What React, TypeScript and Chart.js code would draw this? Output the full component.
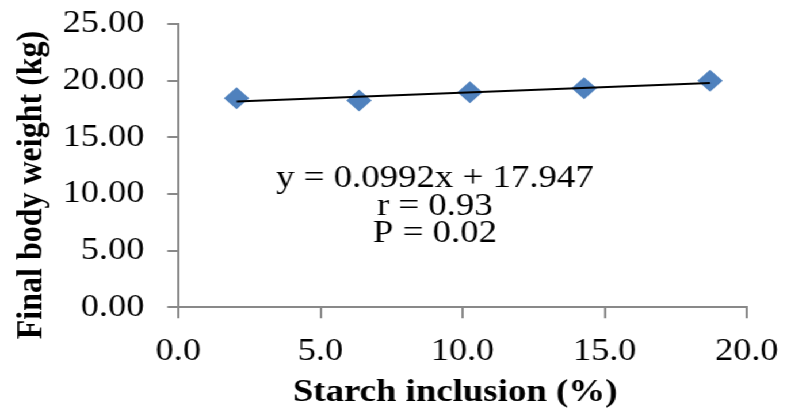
import React, { useEffect, useRef } from "react";
import { Chart, registerables } from "chart.js";

Chart.register(...registerables);

// ---- data ----
const starchInclusion = [2.05, 6.36, 10.26, 14.28, 18.71];
const finalBodyWeight = [18.45, 18.24, 18.98, 19.33, 20.0];
const trendSlope = 0.0992;
const trendIntercept = 17.947;
const equationLines = ["y = 0.0992x + 17.947", "r = 0.93", "P = 0.02"];
const xAxisTitle = "Starch inclusion (%)";
const yAxisTitle = "Final body weight (kg)";
const xRange = [0, 20];
const xStep = 5;
const yRange = [0, 25];
const yStep = 5;

// ---- layout / style ----
const W = 684;
const H = 411;
const SX = 787 / W;
const FONT = '"Liberation Serif", "Times New Roman", serif';
const AXIS_GRAY = "#898989";
const MARKER = "#4F81BD";

export default function App() {
  const ref = useRef<HTMLCanvasElement | null>(null);

  useEffect(() => {
    const canvas = ref.current;
    if (!canvas) return;

    const xMin = Math.min(...starchInclusion);
    const xMax = Math.max(...starchInclusion);
    const trend = [
      { x: xMin, y: trendSlope * xMin + trendIntercept },
      { x: xMax, y: trendSlope * xMax + trendIntercept },
    ];
    const points = starchInclusion.map((x, i) => ({ x, y: finalBodyWeight[i] }));

    const textPlugin = {
      id: "textPlugin",
      afterDraw(chart: any) {
        const { ctx } = chart;
        ctx.save();
        ctx.fillStyle = "#000";
        ctx.textAlign = "center";
        ctx.textBaseline = "alphabetic";
        // y title
        ctx.font = `bold 32px ${FONT}`;
        ctx.save();
        ctx.translate(35.6, 185);
        ctx.rotate(-Math.PI / 2);
        ctx.fillText(yAxisTitle, 0, 0);
        ctx.restore();
        // x title
        ctx.fillText(xAxisTitle, 395.5, 400.5);
        // equation
        ctx.font = `32px ${FONT}`;
        const cx = 378;
        const baselines = [186.5, 214.5, 241.5];
        equationLines.forEach((t, i) => ctx.fillText(t, cx, baselines[i]));
        ctx.restore();
      },
    };

    const chart = new Chart(canvas, {
      type: "scatter",
      data: {
        datasets: [
          {
            label: "trend",
            data: trend,
            showLine: true,
            borderColor: "#000",
            borderWidth: 2,
            pointRadius: 0,
            pointHoverRadius: 0,
          },
          {
            label: "Final body weight",
            data: points,
            pointStyle: "rectRot",
            pointRadius: 11,
            pointHoverRadius: 11,
            backgroundColor: MARKER,
            borderColor: MARKER,
            borderWidth: 0,
          },
        ],
      },
      options: {
        animation: false,
        responsive: false,
        devicePixelRatio: 1,
        events: [],
        layout: { padding: { left: 0, top: 24, right: 35, bottom: 0 } },
        plugins: {
          legend: { display: false },
          tooltip: { enabled: false },
        },
        scales: {
          x: {
            type: "linear",
            min: xRange[0],
            max: xRange[1],
            afterFit(scale: any) {
              scale.height = H - 307.3;
              scale.paddingLeft = 0;
              scale.paddingRight = 0;
            },
            ticks: {
              stepSize: xStep,
              color: "#000",
              font: { family: FONT, size: 31.5 },
              padding: 15,
              callback: (v: any) => Number(v).toFixed(1),
            },
            grid: {
              display: true,
              drawOnChartArea: false,
              drawTicks: true,
              tickLength: 11,
              color: AXIS_GRAY,
              lineWidth: 2,
            },
            border: { display: true, color: AXIS_GRAY, width: 2 },
          },
          y: {
            type: "linear",
            min: yRange[0],
            max: yRange[1],
            afterFit(scale: any) {
              scale.width = 155;
              scale.paddingTop = 0;
              scale.paddingBottom = 0;
            },
            ticks: {
              stepSize: yStep,
              color: "#000",
              font: { family: FONT, size: 31.5 },
              padding: 20,
              callback: (v: any) => Number(v).toFixed(2),
            },
            grid: {
              display: true,
              drawOnChartArea: false,
              drawTicks: true,
              tickLength: 9.6,
              color: AXIS_GRAY,
              lineWidth: 2,
            },
            border: { display: true, color: AXIS_GRAY, width: 2 },
          },
        },
      },
      plugins: [textPlugin],
    });

    return () => chart.destroy();
  }, []);

  return (
    <div
      style={{
        position: "absolute",
        left: 0,
        top: 0,
        width: W,
        height: H,
        transform: `scaleX(${SX})`,
        transformOrigin: "0 0",
        background: "#fff",
      }}
    >
      <canvas ref={ref} width={W} height={H} style={{ width: W, height: H, display: "block" }} />
    </div>
  );
}
